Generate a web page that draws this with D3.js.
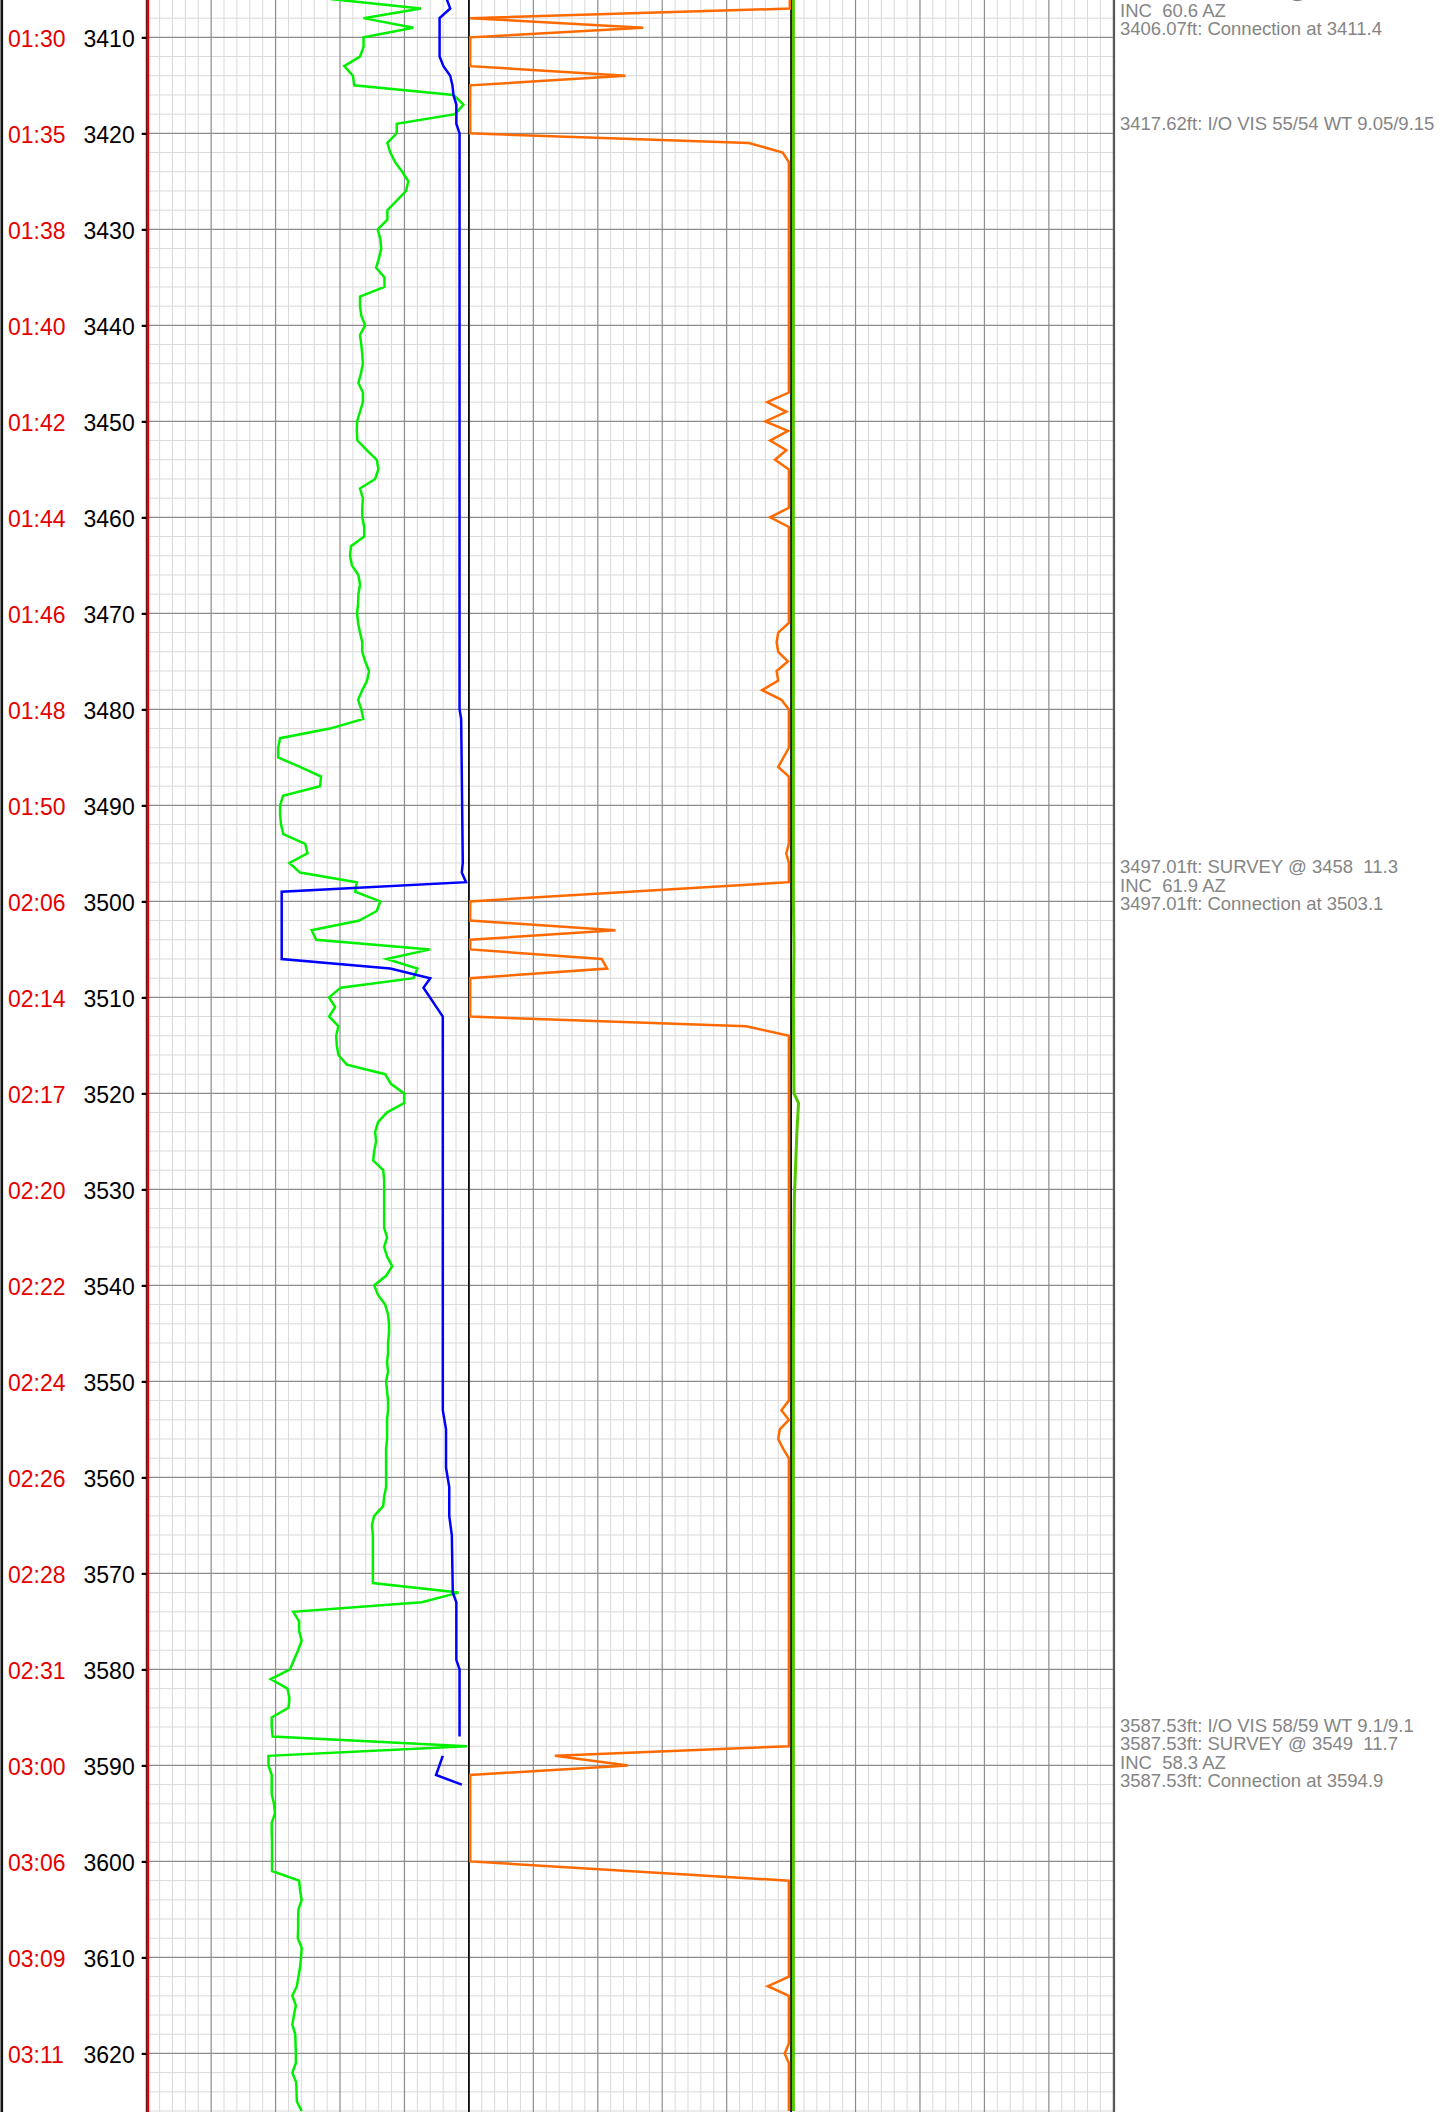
<!DOCTYPE html>
<html>
<head>
<meta charset="utf-8">
<script src="https://d3js.org/d3.v7.min.js"></script>
<style>
body { margin: 0; background: #fff; }
svg text { font-family: "Liberation Sans", Arial, sans-serif; }
.note { white-space: pre; }
</style>
</head>
<body>
<svg id="log" width="1440" height="2112"></svg>
<script>
// depth window shown on the page
var depthTop = 3406.11, depthBottom = 3626.1;

// depth index ticks and the clock time at each
var tickDepths = [3410, 3420, 3430, 3440, 3450, 3460, 3470, 3480, 3490, 3500, 3510,
                  3520, 3530, 3540, 3550, 3560, 3570, 3580, 3590, 3600, 3610, 3620];
var tickTimes = ["01:30", "01:35", "01:38", "01:40", "01:42", "01:44", "01:46", "01:48", "01:50", "02:06", "02:14",
                 "02:17", "02:20", "02:22", "02:24", "02:26", "02:28", "02:31", "03:00", "03:06", "03:09", "03:11"];

// bright green curve, track 1, one reading per foot starting at 3406 ft
var greenStart = 3406;
var greenVals = [
  56.9, 85.1, 67.3, 82.8, 67.3, 67.3, 66.2, 61.3, 64.0, 64.4,   // 3406-3415
  95.2, 98.3, 95.7, 77.6, 77.6, 74.7, 75.6, 77.1, 79.3, 81.2,   // 3416-3425
  80.5, 77.6, 74.7, 74.7, 71.7, 72.5, 72.8, 72.1, 71.2, 73.8,   // 3426-3435
  73.8, 66.2, 66.2, 66.6, 67.8, 66.2, 66.6, 66.9, 67.1, 66.5,   // 3436-3445
  65.7, 67.1, 67.1, 66.2, 65.3, 65.2, 65.4, 68.3, 71.4, 71.9,   // 3446-3455
  70.9, 66.2, 67.1, 66.9, 66.9, 67.5, 67.5, 63.4, 63.1, 63.7,   // 3456-3465
  65.7, 66.2, 65.7, 65.6, 65.3, 65.6, 66.2, 66.9, 66.9, 67.8,   // 3466-3475
  69.0, 68.4, 66.9, 65.6, 66.6, 67.2, 56.9, 41.4, 40.8, 40.8,   // 3476-3485
  47.6, 54.1, 53.8, 42.3, 41.4, 41.4, 41.7, 42.4, 49.2, 49.9,   // 3486-3495
  44.3, 47.6, 65.2, 64.7, 72.5, 71.4, 66.0, 51.2, 52.6, 88.0,   // 3496-3505
  74.5, 84.0, 82.8, 60.2, 56.6, 58.5, 56.6, 59.5, 58.8, 59.0,   // 3506-3515
  59.5, 62.1, 74.0, 75.8, 79.9, 79.9, 74.5, 71.8, 70.9, 71.2,   // 3516-3525
  70.6, 70.3, 73.4, 73.7, 73.7, 73.7, 73.7, 73.7, 73.7, 74.6,   // 3526-3535
  73.7, 74.6, 76.2, 74.3, 70.6, 71.8, 74.0, 74.9, 75.2, 75.2,   // 3536-3545
  74.9, 74.9, 74.6, 74.9, 74.3, 74.6, 74.9, 74.9, 74.6, 74.6,   // 3546-3555
  74.6, 74.3, 74.3, 74.3, 74.3, 74.3, 73.7, 73.4, 70.6, 69.9,   // 3556-3565
  70.2, 70.2, 70.2, 70.2, 70.2, 70.2, 96.8, 85.4, 45.5, 47.3,   // 3566-3575
  47.3, 48.1, 47.0, 45.7, 44.5, 38.5, 43.7, 44.3, 44.0, 38.8,   // 3576-3585
  38.8, 39.1, 99.4, 37.8, 37.8, 38.8, 38.8, 38.8, 39.5, 39.8,   // 3586-3595
  38.8, 38.8, 38.9, 38.9, 38.9, 38.9, 47.3, 47.6, 48.1, 47.1,   // 3596-3605
  47.0, 47.0, 46.9, 48.1, 47.9, 47.6, 47.1, 46.6, 45.2, 46.3,   // 3606-3615
  45.7, 45.2, 46.1, 46.2, 46.3, 46.3, 45.2, 46.4, 46.5, 46.6,   // 3616-3625
  48.1                                                          // 3626
];

// blue curve, track 1 (null = no reading)
var blueDepths = [3406, 3407, 3408, 3412, 3413, 3414, 3415, 3416, 3417, 3419, 3420, 3480, 3481, 3496, 3497,
                  3498, 3499, 3506, 3507, 3508, 3509, 3512, 3553, 3555, 3559, 3561, 3564, 3566, 3572, 3573,
                  3579, 3580, 3587, 3588, 3589, 3591, 3592];
var blueVals = [93.1, 94.2, 90.9, 90.9, 92.1, 94.2, 94.9, 95.2, 96.1, 96.1, 97.1, 97.1, 97.6, 98.1, 97.8,
                99.1, 41.9, 41.9, 75.6, 88.0, 85.9, 91.9, 91.9, 92.9, 92.9, 93.9, 93.9, 94.7, 95.0, 96.1,
                96.1, 97.1, 97.1, null, 91.9, 89.8, 97.8];

// orange curve, track 2
var orangeDepths = [3406, 3407, 3408, 3409, 3410, 3413, 3414, 3415, 3420, 3421, 3422, 3423,
                    3447, 3448, 3449, 3450, 3451, 3452, 3453, 3454, 3455, 3459, 3460, 3461,
                    3471, 3472, 3473, 3474, 3475, 3476, 3477, 3478, 3479, 3480, 3484, 3486, 3487,
                    3494, 3495, 3496, 3498, 3500, 3502, 3503, 3504, 3505, 3506, 3507, 3508, 3512, 3513, 3514,
                    3552, 3553, 3554, 3555, 3556, 3557, 3558, 3588, 3589, 3590, 3591, 3600, 3602,
                    3612, 3613, 3614, 3619, 3620, 3621, 3626];
var orangeVals = [99.6, 99.6, 0.4, 54.1, 0.4, 0.4, 48.6, 0.4, 0.4, 86.9, 97.4, 99.3,
                  99.3, 92.6, 98.5, 92.0, 99.0, 93.5, 98.5, 95.0, 99.3, 99.3, 93.5, 99.3,
                  99.3, 96.0, 95.5, 96.0, 99.0, 95.5, 96.0, 91.0, 97.0, 99.3, 99.3, 96.0, 99.3,
                  99.3, 98.5, 99.3, 99.3, 0.4, 0.4, 45.5, 0.4, 0.4, 41.2, 42.9, 0.4, 0.4, 86.1, 99.3,
                  99.3, 97.0, 99.3, 96.5, 96.0, 97.5, 99.3, 99.3, 26.7, 49.4, 0.4, 0.4, 99.3,
                  99.3, 92.8, 99.3, 99.3, 98.0, 99.3, 99.3];

// yellow-green curve, left edge of track 3
var limeDepths = [3406, 3500, 3505, 3510, 3516, 3520, 3521, 3524, 3531, 3545, 3626];
var limeVals = [0.7, 0.7, 0.9, 0.7, 0.8, 0.9, 2.3, 1.8, 1.0, 0.7, 0.7];

// remarks column
var notes = [
  { depth: 3405.97, lines: ["3406.07ft: SURVEY @ 3367  11.2", "INC  60.6 AZ", "3406.07ft: Connection at 3411.4"] },
  { depth: 3419.6, lines: ["3417.62ft: I/O VIS 55/54 WT 9.05/9.15"] },
  { depth: 3497.08, lines: ["3497.01ft: SURVEY @ 3458  11.3", "INC  61.9 AZ", "3497.01ft: Connection at 3503.1"] },
  { depth: 3586.5, lines: ["3587.53ft: I/O VIS 58/59 WT 9.1/9.1", "3587.53ft: SURVEY @ 3549  11.7", "INC  58.3 AZ", "3587.53ft: Connection at 3594.9"] }
];

var svg = d3.select("#log");

var y = d3.scaleLinear().domain([depthTop, depthBottom]).range([0, 2112]);
var x1 = d3.scaleLinear().domain([0, 100]).range([146.7, 468.9]);
var x2 = d3.scaleLinear().domain([0, 100]).range([468.9, 791.1]);
var x3 = d3.scaleLinear().domain([0, 100]).range([791.1, 1113.3]);
var tracks = [x1, x2, x3];

// grid
var grid = svg.append("g");
var minorV = d3.range(0, 101, 4).filter(function(v) { return v % 20 != 0; });
var majorV = d3.range(0, 101, 20);
var minorH = d3.range(3408, 3627, 2).filter(function(d) { return d % 10 != 0; });
var majorH = d3.range(3410, 3627, 10);

tracks.forEach(function(x) {
  grid.append("g").selectAll("line").data(minorV).join("line")
    .attr("x1", x).attr("x2", x).attr("y1", 0).attr("y2", 2112)
    .attr("stroke", "#dadada").attr("stroke-width", 1);
});
grid.append("g").selectAll("line").data(minorH).join("line")
  .attr("x1", x1(0)).attr("x2", x3(100))
  .attr("y1", y).attr("y2", y)
  .attr("stroke", "#dadada").attr("stroke-width", 1);
tracks.forEach(function(x) {
  grid.append("g").selectAll("line").data(majorV).join("line")
    .attr("x1", x).attr("x2", x).attr("y1", 0).attr("y2", 2112)
    .attr("stroke", "#8c8c8c").attr("stroke-width", 1.2);
});
grid.append("g").selectAll("line").data(majorH).join("line")
  .attr("x1", x1(0)).attr("x2", x3(100))
  .attr("y1", y).attr("y2", y)
  .attr("stroke", "#8c8c8c").attr("stroke-width", 1.2);

// track borders
svg.append("line").attr("x1", x2(0)).attr("x2", x2(0)).attr("y1", 0).attr("y2", 2112)
  .attr("stroke", "#000").attr("stroke-width", 1.6);
svg.append("line").attr("x1", x2(100)).attr("x2", x2(100)).attr("y1", 0).attr("y2", 2112)
  .attr("stroke", "#000").attr("stroke-width", 1.6);
svg.append("line").attr("x1", x3(100) + 0.8).attr("x2", x3(100) + 0.8).attr("y1", 0).attr("y2", 2112)
  .attr("stroke", "#555").attr("stroke-width", 2);
svg.append("line").attr("x1", 1.8).attr("x2", 1.8).attr("y1", 0).attr("y2", 2112)
  .attr("stroke", "#111").attr("stroke-width", 2.6);

// depth axis
var axis = svg.append("g")
  .attr("transform", "translate(" + x1(0) + ",0)")
  .call(d3.axisLeft(y).tickValues(tickDepths).tickSize(5).tickPadding(7).tickFormat(d3.format("d")));
axis.select(".domain").remove();
axis.selectAll(".tick line").attr("stroke", "#000").attr("stroke-width", 2.2);
axis.selectAll(".tick text")
  .attr("font-size", 23).attr("fill", "#000").attr("dy", "0.4em")
  .style("font-family", "'Liberation Sans', Arial, sans-serif");

svg.append("g").selectAll("text").data(tickDepths).join("text")
  .attr("x", 8).attr("y", y).attr("dy", "0.4em")
  .attr("font-size", 23).attr("fill", "#e60000")
  .text(function(d, i) { return tickTimes[i]; });

svg.append("line").attr("x1", x1(0) - 0.4).attr("x2", x1(0) - 0.4).attr("y1", 0).attr("y2", 2112)
  .attr("stroke", "#300").attr("stroke-width", 1);
svg.append("line").attr("x1", x1(0) + 1.3).attr("x2", x1(0) + 1.3).attr("y1", 0).attr("y2", 2112)
  .attr("stroke", "#e30000").attr("stroke-width", 2.4);

// curves
function pairs(depths, vals) {
  return depths.map(function(d, i) { return { depth: d, v: vals[i] }; });
}
function drawCurve(data, x, color, width) {
  svg.append("path")
    .datum(data)
    .attr("fill", "none")
    .attr("stroke", color)
    .attr("stroke-width", width)
    .attr("stroke-linejoin", "miter")
    .attr("d", d3.line()
      .defined(function(d) { return d.v != null; })
      .x(function(d) { return x(d.v); })
      .y(function(d) { return y(d.depth); }));
}

var greenDepths = greenVals.map(function(v, i) { return greenStart + i; });
drawCurve(pairs(orangeDepths, orangeVals), x2, "#ff6a00", 2.5);
drawCurve(pairs(limeDepths, limeVals), x3, "#52c800", 3);
drawCurve(pairs(greenDepths, greenVals), x1, "#00f000", 2.5);
drawCurve(pairs(blueDepths, blueVals), x1, "#0000ff", 2.5);

// remarks
var noteG = svg.append("g");
notes.forEach(function(n) {
  var t = noteG.append("text").attr("class", "note")
    .attr("x", 1120).attr("y", y(n.depth))
    .attr("font-size", 18.5).attr("fill", "#858585");
  n.lines.forEach(function(line, i) {
    t.append("tspan").attr("x", 1120).attr("dy", i == 0 ? 0 : 18.4).text(line);
  });
});
</script>
</body>
</html>
